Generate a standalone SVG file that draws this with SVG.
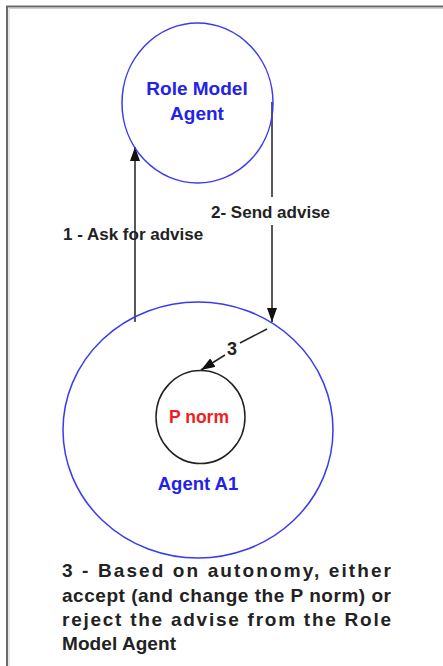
<svg xmlns="http://www.w3.org/2000/svg" width="443" height="666" viewBox="0 0 443 666">
<style>
.blue{fill:none;stroke:#3a3af0;stroke-width:1.5}
.blk{fill:none;stroke:#222;stroke-width:1.5}
.t{font-family:"Liberation Sans",Arial,sans-serif;font-weight:bold}
.lbl{font-size:17px;fill:#222}
.nb{font-size:19px;fill:#2323e8;text-anchor:middle}
.edge{stroke:#222;stroke-width:1.5;fill:none}
</style>
<defs>
<marker id="ah" viewBox="0 0 14 10" refX="14" refY="5" markerWidth="14" markerHeight="10" markerUnits="userSpaceOnUse" orient="auto">
<path d="M0,0 L14,5 L0,10 z" fill="#111"/>
</marker>
</defs>
<rect width="443" height="666" fill="#fff"/>
<g id="frame">
<path d="M7,666 V6.5 H443" fill="none" stroke="#6a6a6a" stroke-width="2"/>
<path d="M9,666 V8.5 H443" fill="none" stroke="#d0d0d0" stroke-width="1"/>
</g>
<g id="connectors">
<path class="edge" d="M135,322 V221 M135,246 V147" marker-end="url(#ah)"/>
<path class="edge" d="M272,102 V197 M272,225 V322" marker-end="url(#ah)"/>
<path class="edge" d="M267,329 L240,343 M225,355 L201,370" marker-end="url(#ah)"/>
</g>
<g id="role-model-agent">
<ellipse class="blue" cx="197.5" cy="103" rx="75.5" ry="80"/>
<text class="t nb" x="197" y="95">Role Model</text>
<text class="t nb" x="197" y="120">Agent</text>
</g>
<g id="agent-a1">
<ellipse class="blue" cx="198" cy="430" rx="135" ry="128"/>
<text class="t nb" x="198" y="490" style="font-size:18.5px">Agent A1</text>
</g>
<g id="p-norm">
<ellipse class="blk" cx="200.5" cy="417" rx="44.5" ry="46.5"/>
<text class="t" x="199" y="423" text-anchor="middle" style="font-size:17.5px;fill:#f02020">P norm</text>
</g>
<g id="labels">
<text class="t lbl" x="63" y="239.5">1 - Ask for advise</text>
<text class="t lbl" x="211" y="218">2- Send advise</text>
<text class="t lbl" x="232" y="355" text-anchor="middle" style="font-size:18px">3</text>
</g>
<g id="note" class="t" style="font-size:19px;fill:#222">
<text x="62" y="577" textLength="329" lengthAdjust="spacing">3 - Based on autonomy, either</text>
<text x="62" y="601.5" textLength="329" lengthAdjust="spacing">accept (and change the P norm) or</text>
<text x="62" y="626" textLength="329" lengthAdjust="spacing">reject the advise from the Role</text>
<text x="62" y="649.5" textLength="114" lengthAdjust="spacing">Model Agent</text>
</g>
</svg>
